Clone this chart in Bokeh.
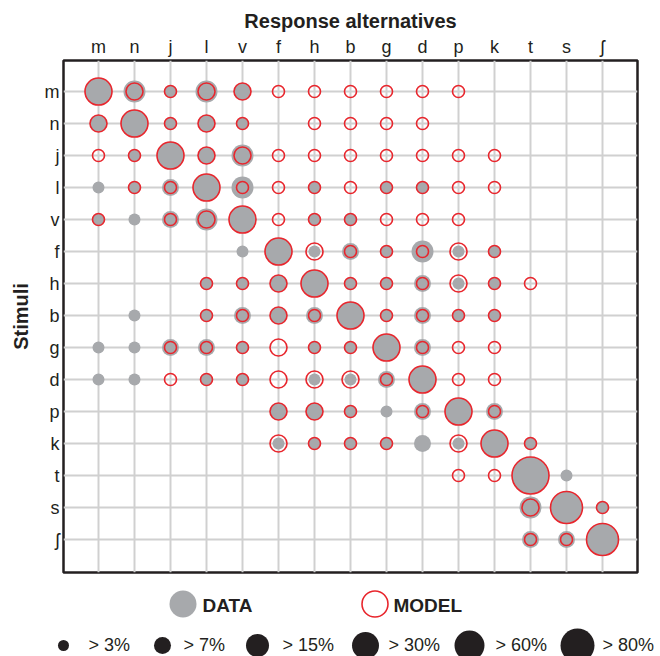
from bokeh.plotting import figure
from bokeh.models import Range1d, FixedTicker, ColumnDataSource
from bokeh.layouts import column
from bokeh.embed import file_html
from bokeh.resources import INLINE
from bokeh.core.properties import value

# ---------------- data ----------------
phonemes = ["m", "n", "j", "l", "v", "f", "h", "b", "g", "d", "p", "k", "t", "s", "ʃ"]
thresholds = ["> 3%", "> 7%", "> 15%", "> 30%", "> 60%", "> 80%"]

# size class (0 = below 3%, 1 = >3%, 2 = >7%, 3 = >15%, 4 = >30%, 5 = >60%, 6 = >80%)
# rows = stimuli, columns = response alternatives (order of phonemes)
data_levels = [
    [4, 3, 1, 3, 2, 0, 0, 0, 0, 0, 0, 0, 0, 0, 0],
    [2, 4, 1, 2, 1, 0, 0, 0, 0, 0, 0, 0, 0, 0, 0],
    [0, 1, 4, 2, 3, 0, 0, 0, 0, 0, 0, 0, 0, 0, 0],
    [1, 1, 2, 4, 3, 0, 1, 0, 1, 1, 0, 0, 0, 0, 0],
    [1, 1, 2, 3, 4, 0, 1, 1, 0, 0, 0, 0, 0, 0, 0],
    [0, 0, 0, 0, 1, 4, 1, 2, 1, 3, 1, 1, 0, 0, 0],
    [0, 0, 0, 1, 1, 2, 4, 1, 1, 2, 1, 1, 0, 0, 0],
    [0, 1, 0, 1, 2, 2, 2, 4, 1, 2, 1, 1, 0, 0, 0],
    [1, 1, 2, 2, 1, 0, 1, 1, 4, 2, 0, 0, 0, 0, 0],
    [1, 1, 0, 1, 1, 0, 1, 1, 2, 4, 0, 0, 0, 0, 0],
    [0, 0, 0, 0, 0, 2, 2, 1, 1, 2, 4, 2, 0, 0, 0],
    [0, 0, 0, 0, 0, 1, 1, 1, 1, 2, 1, 4, 1, 0, 0],
    [0, 0, 0, 0, 0, 0, 0, 0, 0, 0, 0, 0, 6, 1, 0],
    [0, 0, 0, 0, 0, 0, 0, 0, 0, 0, 0, 0, 3, 5, 1],
    [0, 0, 0, 0, 0, 0, 0, 0, 0, 0, 0, 0, 2, 2, 5],
]
model_levels = [
    [4, 2, 1, 2, 2, 1, 1, 1, 1, 1, 1, 0, 0, 0, 0],
    [2, 4, 1, 2, 1, 0, 1, 1, 1, 1, 0, 0, 0, 0, 0],
    [1, 1, 4, 2, 2, 1, 1, 1, 1, 1, 1, 1, 0, 0, 0],
    [0, 1, 1, 4, 1, 1, 1, 1, 1, 1, 1, 1, 0, 0, 0],
    [1, 0, 1, 2, 4, 1, 1, 1, 1, 1, 1, 0, 0, 0, 0],
    [0, 0, 0, 0, 0, 4, 2, 1, 1, 1, 2, 1, 0, 0, 0],
    [0, 0, 0, 1, 1, 2, 4, 1, 1, 1, 2, 1, 1, 0, 0],
    [0, 0, 0, 1, 1, 2, 1, 4, 1, 1, 1, 1, 0, 0, 0],
    [0, 0, 1, 1, 1, 2, 1, 1, 4, 1, 1, 1, 0, 0, 0],
    [0, 0, 1, 1, 1, 2, 2, 2, 1, 4, 1, 1, 0, 0, 0],
    [0, 0, 0, 0, 0, 2, 2, 1, 0, 1, 4, 1, 0, 0, 0],
    [0, 0, 0, 0, 0, 2, 1, 1, 1, 0, 2, 4, 1, 0, 0],
    [0, 0, 0, 0, 0, 0, 0, 0, 0, 0, 1, 1, 6, 0, 0],
    [0, 0, 0, 0, 0, 0, 0, 0, 0, 0, 0, 0, 2, 5, 1],
    [0, 0, 0, 0, 0, 0, 0, 0, 0, 0, 0, 0, 1, 1, 5],
]

# ---------------- style ----------------
FONT = "Liberation Sans"
INK = "#231f20"
GRAY = "#a7a9ac"
RED = "#e8262d"
GRID = "#d0d0d0"
DIAM = [0, 12, 17, 22, 27, 32, 37]          # marker diameter per size class
LEG_DIAM = [11, 17, 23, 27, 30, 34]         # legend dot diameters


def cells(levels):
    xs, ys, ss = [], [], []
    for r, row in enumerate(levels):
        for c, lv in enumerate(row):
            if lv > 0:
                xs.append(c)
                ys.append(r)
                ss.append(DIAM[lv])
    return ColumnDataSource(dict(x=xs, y=ys, size=ss))


n = len(phonemes)
p = figure(width=660, height=580,
           x_range=Range1d(-0.972, n - 1 + 0.972),
           y_range=Range1d(n - 1 + 1.03, -0.97),
           x_axis_location="above",
           output_backend="svg", toolbar_location=None,
           min_border_left=63, min_border_right=23,
           min_border_top=60, min_border_bottom=8)
p.frame_align = False

ticks = list(range(n))
labels = {i: ph for i, ph in enumerate(phonemes)}
for ax in (p.xaxis[0], p.yaxis[0]):
    ax.ticker = FixedTicker(ticks=ticks)
    ax.major_label_overrides = labels
    ax.axis_line_color = None
    ax.major_tick_line_color = None
    ax.minor_tick_line_color = None
    ax.major_tick_in = 0
    ax.major_tick_out = 0
    ax.minor_tick_in = 0
    ax.minor_tick_out = 0
    ax.major_label_text_font = FONT
    ax.major_label_text_font_size = "18px"
    ax.major_label_text_color = INK
    ax.axis_label_text_font = FONT
    ax.axis_label_text_font_size = "20px"
    ax.axis_label_text_font_style = "bold"
    ax.axis_label_text_color = INK

p.xaxis.axis_label = "Response alternatives"
p.yaxis.axis_label = "Stimuli"
p.xaxis.major_label_standoff = 4
p.xaxis.axis_label_standoff = 2
p.yaxis.major_label_standoff = 4
p.yaxis.axis_label_standoff = 10

for g in (p.xgrid[0], p.ygrid[0]):
    g.ticker = FixedTicker(ticks=ticks)
    g.grid_line_color = GRID
    g.grid_line_width = 2

p.outline_line_color = INK
p.outline_line_width = 2.5
p.background_fill_color = "white"

p.scatter("x", "y", size="size", source=cells(data_levels),
          fill_color=GRAY, line_color=None)
p.scatter("x", "y", size="size", source=cells(model_levels),
          fill_color=None, line_color=RED, line_width=1.6)

# ---------------- legend (page pixel coordinates) ----------------
leg = figure(width=660, height=76,
             x_range=Range1d(0, 660), y_range=Range1d(656, 580),
             output_backend="svg", toolbar_location=None, min_border=0)
leg.frame_align = False
leg.axis.visible = False
leg.grid.visible = False
leg.outline_line_color = None

leg.scatter(x=[182.5], y=[603.5], size=27, fill_color=GRAY, line_color=None)
leg.scatter(x=[374.5], y=[603.5], size=26, fill_color=None,
            line_color=RED, line_width=1.6)
leg.text(x=[202, 393], y=[605, 605], text=["DATA", "MODEL"],
         text_font=value(FONT), text_font_size="19px", text_font_style="bold",
         text_color=INK, text_baseline="middle", text_align="left")

dot_x = [63, 162, 257, 365, 469, 577]
txt_x = [88, 183, 282, 388, 495, 602]
leg.scatter(x=dot_x, y=[645] * 6, size=LEG_DIAM, fill_color=INK, line_color=None)
leg.text(x=txt_x, y=[644] * 6, text=thresholds,
         text_font=value(FONT), text_font_size="18px",
         text_color=INK, text_baseline="middle", text_align="left")

layout = column(p, leg, spacing=0)
open("out.html", "w").write(file_html(layout, INLINE))
